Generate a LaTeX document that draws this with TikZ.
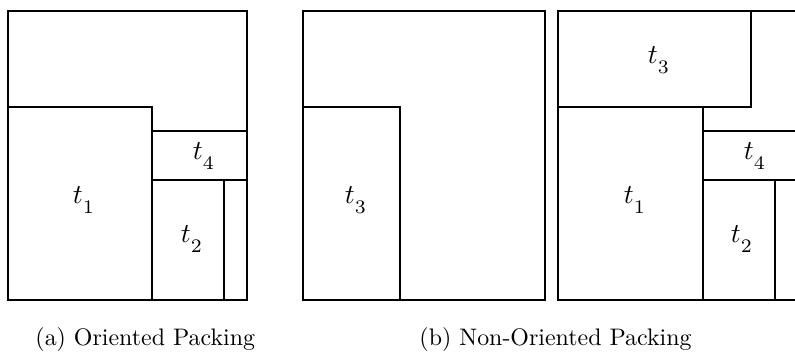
\documentclass[tikz,border=0pt]{standalone}
\usepackage{fontspec}
\newcommand{\tlab}[1]{$t_{\lower2pt\hbox{$\scriptstyle #1$}}$}
\begin{document}
\begin{tikzpicture}[x=1bp,y=-1bp,
  box/.style={line width=1.3bp,line join=miter},
  lab/.style={inner sep=0pt,scale=2.75,font=\fontsize{10}{12}\selectfont},
  captext/.style={inner sep=0pt,anchor=base west,scale=2.4,font=\fontsize{10}{12}\selectfont}]
\useasboundingbox (0,0) rectangle (795,351);
\begin{scope}
\clip (0,0) rectangle (795,351);
% panel (a)
\draw[box] (8,11) rectangle (247,300);
\draw[box] (8,107) -- (152,107) -- (152,300);
\draw[box] (152,131) -- (247,131);
\draw[box] (152,180) -- (247,180);
\draw[box] (224,180) -- (224,300);
% panel (b) left
\draw[box] (303,11) rectangle (545,300);
\draw[box] (303,107) -- (400,107) -- (400,300);
% panel (b) right
\draw[box] (558,11) rectangle (797,300);
\draw[box] (558,107) -- (751,107) -- (751,11);
\draw[box] (703,107) -- (703,300);
\draw[box] (703,131) -- (797,131);
\draw[box] (703,180) -- (797,180);
\draw[box] (775,180) -- (775,300);
\end{scope}
% labels
\node[lab] (a1) at (84,200) {\tlab{1}};
\node[lab] (a4) at (204,156) {\tlab{4}};
\node[lab] (a2) at (192,239) {\tlab{2}};
\node[lab] (b3) at (356,200) {\tlab{3}};
\node[lab] (c3) at (659,60) {\tlab{3}};
\node[lab] (c1) at (635,200) {\tlab{1}};
\node[lab] (c4) at (755,156) {\tlab{4}};
\node[lab] (c2) at (742,239) {\tlab{2}};
% captions
\node[captext] (capa) at (35,345) {(a) Oriented Packing};
\node[captext] (capb) at (419,345) {(b) Non-Oriented Packing};
\end{tikzpicture}
\end{document}
